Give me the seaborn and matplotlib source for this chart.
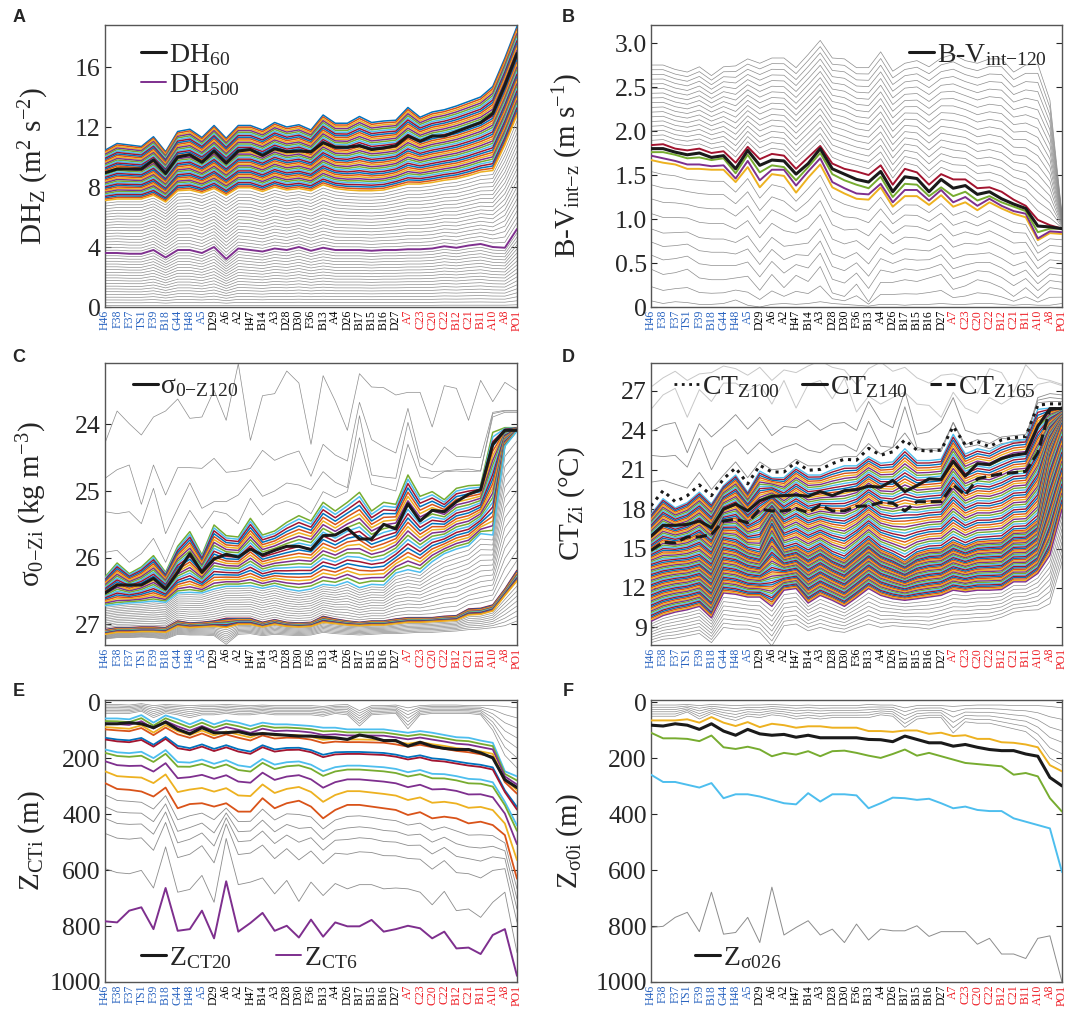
import matplotlib
matplotlib.use("Agg")
import matplotlib.pyplot as plt
from matplotlib.lines import Line2D
import seaborn as sns
import numpy as np
import pandas as pd

# ---------------- stations (x axis) ----------------
stations = ["H46", "F38", "F37", "TS1", "F39", "B18", "G44", "H48", "A5",
            "D29", "A6", "A2", "H47", "B14", "A3", "D28", "D30", "F36", "B13",
            "A4", "D26", "B17", "B15", "B16", "D27",
            "A7", "C23", "C20", "C22", "B12", "C21", "B11", "A10", "A8", "PO1"]
group_sizes = [9, 16, 10]
group_colors = ["#2a64c0", "#000000", "#ee1c24"]

# ---------------- panel A: DH_z (m2 s-2) ----------------
a_top = [10.45, 10.9, 10.8, 10.7, 11.35, 10.35, 11.7, 11.85, 11.3, 12.1, 11.25, 12.1, 12.1, 11.8, 12.3,
         12.0, 12.15, 11.8, 12.8, 12.25, 12.25, 12.7, 12.3, 12.4, 12.45, 13.3, 12.65, 13.0, 13.15, 13.4,
         13.7, 14.0, 14.7, 16.6, 18.7]
a_dh60 = [8.95, 9.2, 9.2, 9.2, 9.8, 8.9, 10.0, 10.15, 9.65, 10.4, 9.6, 10.4, 10.5, 10.1, 10.55,
          10.35, 10.4, 10.35, 10.95, 10.65, 10.65, 10.75, 10.5, 10.6, 10.75, 11.4, 11.05, 11.4, 11.4, 11.7,
          12.0, 12.3, 12.9, 14.8, 16.9]
a_bot = [7.1, 7.2, 7.2, 7.2, 7.45, 7.0, 7.75, 7.8, 7.6, 7.9, 7.45, 7.95, 7.95, 7.7, 8.0,
         7.8, 7.9, 7.75, 8.15, 7.9, 7.8, 7.75, 7.75, 7.8, 8.0, 8.2, 8.2, 8.3, 8.45, 8.55,
         8.75, 9.0, 9.1, 10.8, 12.8]
a_dh500 = [3.6, 3.6, 3.55, 3.55, 3.8, 3.3, 3.8, 3.8, 3.6, 4.0, 3.2, 3.9, 3.8, 3.7, 3.9,
           3.8, 4.0, 3.75, 3.95, 3.8, 3.8, 3.8, 3.75, 3.8, 3.8, 3.85, 3.85, 3.9, 4.05, 3.95,
           4.1, 4.2, 4.0, 3.95, 5.2]
a_floor = [0.10, 0.10, 0.10, 0.10, 0.11, 0.09, 0.11, 0.11, 0.10, 0.11, 0.09, 0.11, 0.11, 0.10, 0.11,
           0.11, 0.11, 0.11, 0.11, 0.11, 0.11, 0.11, 0.11, 0.11, 0.11, 0.11, 0.11, 0.11, 0.12, 0.12,
           0.12, 0.12, 0.12, 0.12, 0.15]

# ---------------- panel B: B-V_int-z (m s-1) ----------------
b_red = [1.84, 1.85, 1.80, 1.78, 1.80, 1.75, 1.77, 1.64, 1.82, 1.68, 1.74, 1.72, 1.57, 1.70, 1.83,
         1.63, 1.57, 1.54, 1.50, 1.61, 1.39, 1.57, 1.53, 1.39, 1.51, 1.45, 1.45, 1.35, 1.36, 1.31,
         1.22, 1.15, 0.99, 0.93, 0.89]
b_black = [1.80, 1.80, 1.76, 1.73, 1.75, 1.70, 1.72, 1.57, 1.78, 1.61, 1.67, 1.66, 1.51, 1.63, 1.80,
           1.57, 1.51, 1.45, 1.42, 1.54, 1.31, 1.48, 1.46, 1.31, 1.45, 1.35, 1.38, 1.28, 1.31, 1.23,
           1.17, 1.12, 0.92, 0.91, 0.89]
b_green = [1.76, 1.76, 1.73, 1.69, 1.70, 1.67, 1.69, 1.52, 1.73, 1.53, 1.61, 1.59, 1.44, 1.59, 1.75,
           1.51, 1.44, 1.39, 1.35, 1.48, 1.25, 1.40, 1.39, 1.26, 1.36, 1.26, 1.31, 1.21, 1.26, 1.19,
           1.14, 1.09, 0.85, 0.89, 0.89]
b_purple = [1.72, 1.69, 1.66, 1.62, 1.62, 1.60, 1.61, 1.46, 1.66, 1.44, 1.56, 1.56, 1.38, 1.54, 1.69,
            1.42, 1.35, 1.29, 1.28, 1.40, 1.19, 1.33, 1.33, 1.21, 1.33, 1.19, 1.25, 1.15, 1.23, 1.15,
            1.09, 1.06, 0.78, 0.86, 0.85]
b_orange = [1.67, 1.64, 1.62, 1.57, 1.57, 1.56, 1.56, 1.42, 1.59, 1.36, 1.51, 1.49, 1.30, 1.47, 1.62,
            1.36, 1.29, 1.23, 1.22, 1.36, 1.14, 1.26, 1.26, 1.16, 1.27, 1.14, 1.19, 1.10, 1.19, 1.12,
            1.06, 1.02, 0.76, 0.84, 0.83]
b_top = [2.75, 2.75, 2.70, 2.67, 2.73, 2.63, 2.73, 2.74, 2.82, 2.77, 2.83, 2.83, 2.72, 2.87, 3.03,
         2.83, 2.82, 2.72, 2.72, 2.90, 2.68, 2.77, 2.80, 2.73, 2.83, 2.87, 2.80, 2.77, 2.82, 2.82,
         2.67, 2.75, 2.76, 2.35, 1.05]
b_low = [0.43, 0.37, 0.39, 0.43, 0.33, 0.31, 0.31, 0.33, 0.35, 0.19, 0.37, 0.22, 0.36, 0.29, 0.46,
         0.16, 0.12, 0.26, 0.06, 0.28, 0.28, 0.31, 0.29, 0.33, 0.37, 0.20, 0.24, 0.31, 0.28, 0.22,
         0.12, 0.22, 0.10, 0.22, 0.20]
b_floor = [0.07, 0.04, 0.06, 0.05, 0.03, 0.03, 0.04, 0.08, 0.02, 0.00, 0.03, 0.04, 0.03, 0.04, 0.06,
           0.04, 0.03, 0.02, 0.01, 0.03, 0.03, 0.02, 0.03, 0.03, 0.04, 0.03, 0.03, 0.04, 0.04, 0.03,
           0.02, 0.03, 0.02, 0.02, 0.04]

# ---------------- panel C: sigma0 at depth (kg m-3) ----------------
c_g1 = [24.28, 23.80, 23.99, 24.16, 23.89, 23.80, 23.62, 23.91, 23.89, 23.49, 23.94, 23.09, 24.24, 23.57, 23.54,
        23.20, 23.38, 24.30, 23.27, 23.65, 24.09, 23.24, 23.44, 23.45, 23.56, 23.52, 23.52, 24.04, 23.42, 23.46,
        23.94, 23.34, 23.66, 23.37, 23.49]
c_g2 = [24.81, 24.68, 24.61, 25.20, 24.61, 25.06, 24.65, 24.65, 24.66, 24.51, 24.72, 24.70, 24.66, 24.39, 24.54,
        24.46, 24.40, 24.78, 24.30, 24.46, 24.55, 23.67, 24.23, 24.34, 24.43, 23.76, 24.50, 24.61, 24.34, 24.48,
        24.49, 24.50, 23.82, 23.79, 23.79]
c_g3 = [25.31, 25.34, 25.31, 25.49, 24.96, 25.64, 25.26, 24.88, 25.26, 25.16, 25.16, 25.06, 24.83, 25.08, 25.00,
        24.88, 24.91, 24.98, 24.71, 24.87, 24.95, 23.87, 24.76, 24.79, 24.81, 23.97, 24.63, 24.71, 24.70, 24.68,
        24.67, 24.70, 23.84, 23.80, 23.80]
c_g4 = [25.92, 25.89, 26.07, 25.94, 25.71, 26.07, 25.64, 25.29, 25.56, 25.30, 25.34, 25.49, 25.11, 25.36, 25.21,
        25.15, 25.21, 25.34, 25.01, 25.10, 25.01, 24.20, 24.90, 24.95, 25.00, 24.30, 24.79, 24.81, 24.71, 24.70,
        24.71, 24.70, 23.89, 23.82, 23.82]
c_green = [26.29, 26.08, 26.24, 26.14, 25.97, 26.22, 25.83, 25.61, 25.96, 25.51, 25.67, 25.69, 25.41, 25.66, 25.60,
           25.47, 25.37, 25.45, 25.17, 25.30, 25.17, 25.02, 25.30, 25.17, 25.20, 24.76, 25.08, 25.01, 25.13, 24.96,
           24.92, 24.91, 24.12, 24.05, 24.05]
c_black = [26.53, 26.41, 26.41, 26.41, 26.31, 26.47, 26.22, 25.94, 26.22, 26.02, 25.95, 25.99, 25.87, 25.96, 25.89,
           25.83, 25.83, 25.88, 25.67, 25.66, 25.56, 25.72, 25.72, 25.50, 25.57, 25.19, 25.45, 25.29, 25.31, 25.16,
           25.05, 24.98, 24.30, 24.09, 24.09]
c_cyan = [26.72, 26.70, 26.68, 26.67, 26.65, 26.67, 26.53, 26.52, 26.53, 26.47, 26.43, 26.43, 26.42, 26.46, 26.42,
          26.47, 26.50, 26.47, 26.40, 26.42, 26.36, 26.45, 26.40, 26.41, 26.23, 26.18, 26.22, 26.06, 25.94, 25.87,
          25.82, 25.64, 25.66, 24.33, 24.10]
c_low_top = [27.08, 27.05, 27.05, 27.04, 27.04, 27.05, 26.95, 26.98, 26.97, 26.95, 26.91, 26.91, 26.91, 26.97, 26.93,
             26.97, 26.98, 26.97, 26.88, 26.92, 26.95, 26.97, 26.95, 26.95, 26.92, 26.90, 26.90, 26.90, 26.88, 26.87,
             26.77, 26.76, 26.71, 26.47, 26.19]
c_low_bot = [27.15, 27.12, 27.12, 27.11, 27.11, 27.12, 27.03, 27.05, 27.04, 27.03, 27.05, 27.00, 27.00, 27.04, 27.00,
             27.03, 27.04, 27.03, 26.97, 26.99, 27.01, 27.02, 27.01, 27.01, 26.99, 26.97, 26.97, 26.96, 26.95, 26.94,
             26.86, 26.85, 26.80, 26.57, 26.35]
c_gray_bot = [27.22, 27.20, 27.20, 27.19, 27.20, 27.22, 27.15, 27.16, 27.16, 27.17, 27.30, 27.15, 27.14, 27.17, 27.15,
              27.16, 27.17, 27.16, 27.12, 27.14, 27.15, 27.16, 27.15, 27.14, 27.14, 27.13, 27.12, 27.12, 27.11, 27.10,
              27.08, 27.07, 27.05, 27.02, 26.95]

# ---------------- panel D: CT at depth (degC) ----------------
d_light1 = [25.6, 26.7, 27.2, 25.0, 27.1, 26.2, 27.6, 27.6, 27.0, 27.5, 26.0, 27.8, 25.7, 27.5, 27.8,
            26.4, 28.0, 25.4, 26.6, 26.0, 26.5, 26.9, 26.0, 25.9, 25.0, 26.9, 25.7, 25.3, 26.5, 26.0,
            26.6, 26.5, 27.5, 27.7, 27.4]
d_light2 = [27.3, 28.0, 28.5, 27.8, 28.3, 28.4, 28.9, 28.7, 28.2, 28.8, 27.8, 28.6, 28.4, 28.9, 29.3,
            28.8, 28.6, 27.5, 28.7, 29.2, 28.5, 28.8, 28.0, 27.6, 28.2, 28.3, 28.0, 26.8, 28.7, 28.4,
            26.9, 29.0, 28.0, 27.8, 27.5]
d_g1 = [23.9, 24.4, 24.6, 22.3, 24.5, 23.5, 24.3, 25.2, 24.1, 25.0, 23.6, 24.3, 24.2, 24.8, 24.0,
        24.5, 24.6, 24.0, 26.2, 24.7, 24.2, 27.0, 23.7, 23.9, 24.6, 26.5, 24.0, 23.7, 23.8, 23.4,
        23.3, 23.3, 26.5, 26.8, 26.7]
d_g2 = [22.1, 22.0, 22.1, 21.2, 23.4, 21.0, 22.7, 23.3, 22.2, 23.1, 22.3, 22.7, 23.0, 22.5, 22.3,
        22.9, 22.9, 22.4, 24.7, 22.8, 22.7, 25.8, 22.7, 22.5, 22.4, 24.6, 22.7, 22.9, 22.6, 23.0,
        23.1, 23.2, 26.3, 26.5, 26.4]
d_g3 = [20.06, 20.2, 19.9, 19.6, 20.8, 19.5, 20.6, 21.6, 20.4, 21.6, 21.0, 21.1, 21.8, 21.3, 21.3,
        21.8, 22.0, 22.0, 23.0, 22.2, 22.7, 23.8, 22.5, 22.6, 22.6, 24.6, 22.9, 23.3, 23.0, 23.5,
        23.6, 23.7, 26.1, 26.2, 26.2]
d_dot100 = [18.26, 19.41, 18.57, 19.03, 19.85, 19.03, 20.31, 21.14, 19.93, 21.34, 20.83, 20.83, 21.6, 20.96, 21.03,
            21.47, 21.81, 21.73, 22.63, 22.11, 22.37, 23.27, 22.5, 22.42, 22.5, 24.3, 22.89, 23.14, 22.76, 23.27,
            23.45, 23.53, 25.92, 26.02, 26.02]
d_top = [17.6, 18.8, 18.1, 18.5, 19.3, 18.4, 19.8, 20.6, 19.3, 20.9, 20.4, 20.4, 21.2, 20.6, 20.6,
         21.0, 21.3, 21.3, 22.0, 21.5, 21.6, 22.6, 21.7, 21.7, 21.8, 23.7, 22.2, 22.6, 22.4, 22.9,
         23.2, 23.3, 25.6, 25.7, 25.7]
d_mid = [13.63, 13.89, 14.02, 14.1, 14.35, 13.63, 15.69, 15.48, 14.92, 14.66, 16.77, 14.92, 15.17, 14.66, 15.17,
         14.53, 14.14, 14.92, 15.69, 14.92, 14.53, 14.0, 14.66, 14.92, 14.97, 15.56, 15.17, 15.56, 15.64, 15.69,
         16.41, 16.46, 17.2, 22.0, 24.5]
d_bot = [9.46, 9.9, 10.16, 10.34, 10.6, 9.72, 11.62, 11.52, 11.31, 11.31, 10.6, 11.83, 11.96, 10.85, 11.44,
         11.06, 10.6, 11.26, 11.96, 11.44, 11.18, 11.06, 11.18, 11.31, 11.44, 11.83, 11.7, 11.83, 11.83, 11.88,
         12.47, 12.47, 13.11, 14.5, 18.0]
d_black140 = [15.94, 16.77, 16.77, 16.84, 17.1, 16.59, 18.0, 18.39, 17.87, 18.64, 18.98, 19.03, 19.08, 18.98, 19.34,
              19.03, 19.41, 19.49, 19.75, 19.67, 20.19, 19.34, 19.8, 20.31, 20.26, 21.65, 20.52, 21.47, 21.39, 21.86,
              22.11, 22.24, 24.3, 25.66, 25.66]
d_dash165 = [14.86, 15.48, 15.43, 15.89, 15.89, 16.07, 17.1, 17.23, 16.97, 18.0, 17.87, 17.87, 18.05, 17.74, 18.31,
             17.87, 17.87, 18.21, 18.26, 18.51, 18.46, 17.87, 18.57, 18.57, 18.57, 19.85, 19.08, 20.31, 20.52, 20.7,
             20.78, 20.88, 22.3, 25.6, 25.71]
d_gray_bot = [7.84, 8.1, 8.18, 8.36, 8.54, 7.84, 9.0, 8.87, 8.87, 8.62, 7.59, 9.13, 9.26, 8.74, 9.0,
              8.74, 8.62, 8.95, 9.26, 9.0, 9.13, 9.05, 9.0, 8.87, 9.13, 9.31, 9.39, 9.46, 9.51, 9.77,
              10.16, 10.29, 10.34, 10.8, 14.0]

# ---------------- panel E: depth of isotherms (m) ----------------
e_gt_hi = [8, 8, 10, 5, 12, 8, 10, 12, 10, 10, 8, 10, 12, 10, 12, 12, 12, 12, 15, 10, 8, 30, 12, 12, 10,
           20, 12, 10, 10, 10, 12, 12, 12, 15, 20]
e_gt_lo = [40, 40, 40, 32, 55, 38, 45, 55, 45, 45, 40, 45, 45, 40, 45, 45, 45, 45, 50, 40, 45, 85, 45, 42, 40,
           95, 45, 40, 40, 40, 40, 45, 100, 190, 235]
e_cyan = [58, 58, 61, 46, 73, 47, 61, 79, 61, 79, 65, 73, 85, 73, 79, 79, 82, 85, 91, 91, 97, 97, 97, 97, 103,
          109, 103, 109, 117, 125, 127, 137, 145, 247, 265]
e_ct20 = [77, 77, 73, 77, 91, 71, 97, 113, 91, 109, 109, 105, 115, 112, 115, 118, 121, 121, 125, 127, 133, 117, 125, 137, 137,
          157, 143, 157, 165, 169, 169, 181, 199, 277, 305]
e_bot = [289, 310, 313, 319, 337, 305, 379, 364, 361, 373, 361, 391, 391, 343, 379, 361, 352, 373, 415, 385, 367, 367, 373, 379, 385,
         403, 393, 415, 409, 415, 433, 427, 439, 475, 631]
e_deep = [595, 609, 613, 601, 664, 517, 679, 669, 619, 715, 487, 652, 643, 628, 685, 637, 712, 643, 691, 648, 667, 652, 652, 667, 664,
          667, 679, 724, 676, 745, 739, 769, 715, 679, 895]
e_ct6 = [783, 787, 745, 733, 811, 664, 817, 811, 745, 844, 640, 820, 789, 753, 817, 799, 841, 777, 838, 787, 801, 801, 778, 820, 811,
         799, 808, 844, 820, 880, 877, 900, 832, 811, 978]
e_col_frac = [0, 0.04, 0.08, 0.134, 0.169, 0.299, 0.325, 0.48, 0.532, 0.662, 0.818, 1.0]
e_gray_frac = [0.137, 0.275, 0.412, 0.588, 1.0]

# ---------------- panel F: depth of isopycnals (m) ----------------
f_gt_hi = [10, 10, 10, 8, 12, 8, 10, 12, 10, 10, 8, 10, 12, 10, 12, 12, 12, 12, 8, 10, 10, 20, 12, 12, 12,
           15, 12, 10, 10, 10, 12, 12, 12, 15, 20]
f_gt_lo = [50, 50, 50, 35, 60, 40, 55, 65, 50, 55, 45, 50, 60, 55, 60, 55, 55, 55, 55, 45, 50, 90, 60, 55, 55,
           110, 70, 75, 75, 85, 95, 105, 140, 200, 225]
f_orange = [65, 65, 65, 61, 73, 53, 73, 85, 71, 89, 77, 82, 91, 86, 86, 91, 91, 91, 103, 103, 106, 101, 101, 113, 109,
            121, 118, 131, 131, 143, 145, 151, 161, 225, 247]
f_s26 = [82, 85, 77, 82, 97, 77, 103, 118, 97, 113, 118, 115, 125, 118, 127, 127, 127, 127, 133, 134, 141, 121, 133, 145, 145,
         157, 151, 161, 169, 173, 173, 185, 193, 269, 299]
f_green = [109, 129, 129, 131, 139, 119, 161, 167, 159, 169, 193, 181, 187, 175, 193, 175, 173, 181, 191, 199, 185, 169, 191, 181, 193,
           205, 217, 221, 225, 229, 259, 253, 265, 343, 391]
f_cyan = [259, 285, 285, 295, 305, 289, 343, 329, 329, 337, 349, 361, 365, 325, 355, 329, 329, 333, 379, 361, 341, 343, 349, 345, 361,
          379, 373, 385, 389, 389, 415, 427, 439, 451, 607]
f_deep = [805, 801, 769, 751, 820, 679, 829, 823, 769, 859, 661, 832, 805, 781, 832, 811, 859, 793, 850, 811, 817, 817, 799, 837, 820,
          820, 820, 865, 844, 900, 900, 916, 844, 835, 1000]

# ---------------- style ----------------
MATLAB = ["#0072BD", "#D95319", "#EDB120", "#7E2F8E", "#77AC30", "#4DBEEE", "#A2142F"]
GRAY = "#8c8c8c"
sns.set_style("ticks")
plt.rcParams["font.family"] = ["Liberation Serif", "DejaVu Serif"]
plt.rcParams["mathtext.fontset"] = "custom"
plt.rcParams["mathtext.rm"] = "Liberation Serif"
plt.rcParams["mathtext.it"] = "Liberation Serif:italic"
plt.rcParams["mathtext.bf"] = "Liberation Serif:bold"

x = np.arange(len(stations))
station_colors = [c for c, n in zip(group_colors, group_sizes) for _ in range(n)]


def blend(a, b, fracs):
    a = np.asarray(a, float)
    b = np.asarray(b, float)
    return [a + f * (b - a) for f in fracs]


def draw_lines(ax, lines, colors, lw, ls="-", zorder=2):
    lines = [np.asarray(l, float) for l in lines]
    df = pd.DataFrame({
        "station": np.tile(x, len(lines)),
        "value": np.concatenate(lines),
        "line": np.repeat(np.arange(len(lines)), len(x)),
    })
    if isinstance(colors, str):
        colors = [colors] * len(lines)
    palette = {k: colors[k] for k in range(len(lines))}
    sns.lineplot(data=df, x="station", y="value", hue="line", palette=palette,
                 estimator=None, sort=False, legend=False, linewidth=lw,
                 linestyle=ls, ax=ax, zorder=zorder)


def style_axis(ax, ylim, yticks, yticklabels, ylabel, label_x):
    ax.set_xlim(0, len(stations) - 1)
    ax.set_ylim(*ylim)
    ax.set_xticks(x)
    ax.set_xticklabels(stations, rotation=90, fontsize=8.5)
    for lab, c in zip(ax.get_xticklabels(), station_colors):
        lab.set_color(c)
    ax.set_yticks(yticks)
    ax.set_yticklabels(yticklabels, fontsize=18.5)
    ax.tick_params(axis="x", length=0, pad=2)
    ax.tick_params(axis="y", direction="in", length=4, left=True, right=True,
                   width=0.8, color="#262626", pad=3)
    ax.set_xlabel("")
    ax.set_ylabel(ylabel, fontsize=21)
    ax.yaxis.set_label_coords(label_x, 0.5)
    for s in ax.spines.values():
        s.set_visible(True)
        s.set_color("#555555")
        s.set_linewidth(1.0)


def short_legend(ax, handles, labels, **kw):
    leg = ax.legend(handles, labels, frameon=False, fontsize=20, handlelength=0.9,
                    handletextpad=0.1, borderaxespad=0.0, **kw)
    leg.set_zorder(10)
    return leg


fig = plt.figure(figsize=(10.67, 10.10), dpi=100)
W, H = 1067.0, 1010.0
cols = [(105, 412), (651, 411)]
rows = [(25, 307), (363, 645), (700, 982)]
axes = {}
for r, (top, bot) in enumerate(rows):
    for c, (left, width) in enumerate(cols):
        axes[r, c] = fig.add_axes([left / W, 1 - bot / H, width / W, (bot - top) / H])

# ---- A ----
ax = axes[0, 0]
gray_a = blend(a_floor, a_dh500, np.arange(0, 19) / 19) + blend(a_dh500, a_bot, np.arange(1, 19) / 19)
draw_lines(ax, gray_a, GRAY, 0.5)
col_a = blend(a_top, a_bot, np.linspace(0, 1, 38))
draw_lines(ax, col_a, [MATLAB[k % 7] for k in range(len(col_a))], 1.1, zorder=3)
draw_lines(ax, [a_dh500], MATLAB[3], 1.4, zorder=4)
draw_lines(ax, [a_dh60], "#1a1a1a", 2.2, zorder=5)
style_axis(ax, (0, 18.8), [0, 4, 8, 12, 16], ["0", "4", "8", "12", "16"],
           r"DH$_{\mathregular{Z}}$ (m$^{\mathregular{2}}$ s$^{\mathregular{-2}}$)", -0.13)
short_legend(ax, [Line2D([], [], color="#1a1a1a", lw=2.2), Line2D([], [], color=MATLAB[3], lw=1.4)],
             [r"DH$_{\mathregular{60}}$", r"DH$_{\mathregular{500}}$"],
             loc="upper left", bbox_to_anchor=(0.06, 0.98), labelspacing=0.15)

# ---- B ----
ax = axes[0, 1]
gray_b = (blend(b_red, b_top, np.arange(1, 18) / 17)
          + blend(b_orange, b_low, [0.105, 0.226, 0.355, 0.49, 0.63, 0.75, 0.87, 1.0])
          + blend(b_low, b_floor, [0.55, 1.0]))
draw_lines(ax, gray_b, GRAY, 0.5)
draw_lines(ax, [b_orange, b_purple, b_green, b_red],
           [MATLAB[2], MATLAB[3], MATLAB[4], MATLAB[6]], 1.4, zorder=3)
draw_lines(ax, [b_black], "#1a1a1a", 2.2, zorder=5)
style_axis(ax, (0, 3.205), [0, 0.5, 1.0, 1.5, 2.0, 2.5, 3.0],
           ["0", "0.5", "1.0", "1.5", "2.0", "2.5", "3.0"],
           r"B-V$_{\mathregular{int{-}z}}$ (m s$^{\mathregular{-1}}$)", -0.16)
short_legend(ax, [Line2D([], [], color="#1a1a1a", lw=2.2)],
             [r"B-V$_{\mathregular{int{-}120}}$"], loc="upper right", bbox_to_anchor=(0.99, 0.98))

# ---- C ----
ax = axes[1, 0]
gray_c = ([c_g1, c_g2, c_g3, c_g4]
          + blend(c_cyan, c_low_top, np.arange(1, 14) / 14)
          + blend(c_low_bot, c_gray_bot, np.arange(1, 9) / 8))
draw_lines(ax, gray_c, GRAY, 0.5)
col_c = blend(c_green, c_cyan, np.linspace(0, 1, 23))
draw_lines(ax, col_c, [MATLAB[(4 + k) % 7] for k in range(len(col_c))], 1.1, zorder=3)
low_c = blend(c_low_top, c_low_bot, np.linspace(0, 1, 11))
draw_lines(ax, low_c, [MATLAB[(6 + k) % 7] for k in range(len(low_c))], 1.1, zorder=3)
draw_lines(ax, [c_black], "#1a1a1a", 2.2, zorder=5)
style_axis(ax, (27.31, 23.08), [24, 25, 26, 27], ["24", "25", "26", "27"],
           r"σ$_{\mathregular{0{-}Zi}}$ (kg m$^{\mathregular{-3}}$)", -0.135)
short_legend(ax, [Line2D([], [], color="#1a1a1a", lw=2.2)],
             [r"σ$_{\mathregular{0{-}Z120}}$"], loc="upper left", bbox_to_anchor=(0.04, 1.0))

# ---- D ----
ax = axes[1, 1]
draw_lines(ax, [d_light1, d_light2], "#c8c8c8", 0.7)
draw_lines(ax, [d_g1, d_g2, d_g3], GRAY, 0.6)
draw_lines(ax, blend(d_bot, d_gray_bot, np.arange(1, 9) / 8), GRAY, 0.5)
fr_d = np.linspace(0, 1, 76)
col_d = [blend(d_top, d_mid, [2 * f])[0] if f <= 0.5 else blend(d_mid, d_bot, [2 * f - 1])[0] for f in fr_d]
draw_lines(ax, col_d, [MATLAB[(5 + k) % 7] for k in range(len(col_d))], 1.0, zorder=3)
draw_lines(ax, [d_dot100], "#1a1a1a", 2.2, ls=":", zorder=5)
draw_lines(ax, [d_black140], "#1a1a1a", 2.2, zorder=5)
draw_lines(ax, [d_dash165], "#1a1a1a", 2.2, ls="--", zorder=5)
style_axis(ax, (7.66, 29.13), [9, 12, 15, 18, 21, 24, 27], ["9", "12", "15", "18", "21", "24", "27"],
           r"CT$_{\mathregular{Zi}}$ (°C)", -0.155)
short_legend(ax, [Line2D([], [], color="#1a1a1a", lw=2.0, ls=":"),
                  Line2D([], [], color="#1a1a1a", lw=2.2),
                  Line2D([], [], color="#1a1a1a", lw=2.2, ls="--")],
             [r"CT$_{\mathregular{Z100}}$", r"CT$_{\mathregular{Z140}}$", r"CT$_{\mathregular{Z165}}$"],
             loc="upper left", bbox_to_anchor=(0.03, 1.0), ncol=3, columnspacing=0.8)

# ---- E ----
ax = axes[2, 0]
draw_lines(ax, blend(e_gt_hi, e_gt_lo, np.linspace(0, 1, 7)), GRAY, 0.5)
draw_lines(ax, blend(e_bot, e_deep, e_gray_frac), GRAY, 0.6)
col_e = blend(e_cyan, e_bot, e_col_frac)
draw_lines(ax, col_e, [MATLAB[i] for i in [5, 4, 3, 2, 1, 0, 6, 5, 4, 3, 2, 1]], 1.3, zorder=3)
draw_lines(ax, [e_ct6], MATLAB[3], 1.4, zorder=4)
draw_lines(ax, [e_ct20], "#1a1a1a", 2.2, zorder=5)
style_axis(ax, (1000, -8), [0, 200, 400, 600, 800, 1000], ["0", "200", "400", "600", "800", "1000"],
           r"Z$_{\mathregular{CTi}}$ (m)", -0.14)
short_legend(ax, [Line2D([], [], color="#1a1a1a", lw=2.2), Line2D([], [], color=MATLAB[3], lw=1.4)],
             [r"Z$_{\mathregular{CT20}}$", r"Z$_{\mathregular{CT6}}$"],
             loc="lower left", bbox_to_anchor=(0.06, 0.0), ncol=2, columnspacing=1.6)

# ---- F ----
ax = axes[2, 1]
draw_lines(ax, blend(f_gt_hi, f_gt_lo, np.linspace(0, 1, 6)), GRAY, 0.5)
draw_lines(ax, [f_deep], GRAY, 0.7)
draw_lines(ax, [f_orange, f_green, f_cyan], [MATLAB[2], MATLAB[4], MATLAB[5]], 1.4, zorder=3)
draw_lines(ax, [f_s26], "#1a1a1a", 2.2, zorder=5)
style_axis(ax, (1000, -8), [0, 200, 400, 600, 800, 1000], ["0", "200", "400", "600", "800", "1000"],
           r"Z$_{\mathregular{σ0i}}$ (m)", -0.16)
short_legend(ax, [Line2D([], [], color="#1a1a1a", lw=2.2)],
             [r"Z$_{\mathregular{σ026}}$"], loc="lower left", bbox_to_anchor=(0.08, 0.0))

# panel letters
for lab, (px, py) in zip("ABCDEF", [(19, 17), (568, 17), (19, 357), (568, 357), (19, 692), (568, 692)]):
    fig.text(px / W, 1 - py / H, lab, fontsize=13, fontweight="bold",
             family=["Liberation Sans", "DejaVu Sans"], ha="center", va="center")

fig.savefig("out.png", dpi=100)
